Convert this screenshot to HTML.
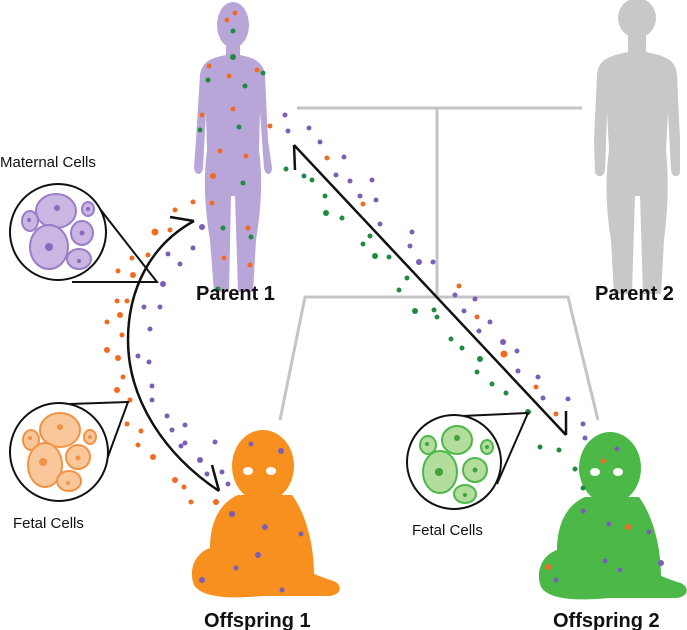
<!DOCTYPE html>
<html><head><style>
html,body{margin:0;padding:0;background:#fff;}
svg{display:block;}
text{font-family:"Liberation Sans",sans-serif;}
</style></head><body>
<svg width="687" height="630" viewBox="0 0 687 630" xmlns="http://www.w3.org/2000/svg">
<g stroke="#c4c4c4" stroke-width="3" fill="none">
<line x1="297" y1="108" x2="582" y2="108"/>
<line x1="437" y1="108" x2="437" y2="297"/>
<polyline points="280,420 305,297 568,297 598,420"/>
</g>
<g fill="#b8a6d8">
<ellipse cx="233" cy="25" rx="16" ry="23"/>
<path d="M226,42 L226,55 C210,58 202,62 200,75 L196,140 L194,168 C195,176 202,176 203,168 L206,112 L207,150 C203,180 205,210 210,240 L214,292 L229,292 L231,196 L235,196 L238,292 L253,292 L256,240 C261,210 263,180 259,150 L260,112 L264,168 C265,176 272,176 272,168 L268,140 L265,75 C263,62 255,58 240,55 L240,42 Z"/>
</g>
<g fill="#c8c8c8">
<ellipse cx="637" cy="18" rx="19" ry="20"/>
<path d="M628,34 L628,52 C608,56 598,60 597,75 L594,140 L595,172 C597,178 604,178 605,170 L607,112 L609,150 C605,180 606,210 611,240 L614,294 L632,294 L635,196 L640,196 L643,294 L661,294 L664,240 C668,210 669,180 666,150 L668,112 L671,170 C672,178 679,178 680,172 L680,140 L677,75 C676,60 666,56 646,52 L646,34 Z"/>
</g>
<g fill="#f7901e">
<ellipse cx="263" cy="466" rx="31" ry="36"/>
<path d="M238,495 C215,505 210,530 210,548 C195,553 188,570 194,585 C203,600 240,598 262,596 L330,596 C344,594 342,582 330,580 L314,574 C314,545 306,514 292,495 Z"/>
</g>
<g fill="#fff"><ellipse cx="248" cy="471" rx="5" ry="4"/><ellipse cx="271" cy="471" rx="5" ry="4"/></g>
<g fill="#4cb848">
<ellipse cx="610" cy="468" rx="31" ry="36"/>
<path d="M585,497 C562,507 557,532 557,550 C542,555 535,572 541,587 C550,602 587,600 609,598 L677,598 C691,596 689,584 677,582 L661,576 C661,547 653,516 639,497 Z"/>
</g>
<g fill="#fff"><ellipse cx="595" cy="472" rx="5" ry="4"/><ellipse cx="618" cy="472" rx="5" ry="4"/></g>
<g fill="#f26a21">
<circle cx="235" cy="13" r="2.5"/><circle cx="227" cy="20" r="2.5"/><circle cx="209" cy="66" r="2.5"/><circle cx="229" cy="76" r="2.5"/><circle cx="257" cy="70" r="2.5"/><circle cx="233" cy="109" r="2.5"/><circle cx="202" cy="115" r="2.5"/><circle cx="270" cy="126" r="2.5"/><circle cx="220" cy="151" r="2.5"/><circle cx="246" cy="156" r="2.5"/><circle cx="213" cy="176" r="3"/><circle cx="248" cy="228" r="2.5"/><circle cx="250" cy="265" r="2.5"/><circle cx="224" cy="258" r="2.5"/><circle cx="193" cy="202" r="2.5"/><circle cx="212" cy="203" r="2.5"/><circle cx="175" cy="210" r="2.5"/><circle cx="155" cy="232" r="3.5"/><circle cx="170" cy="230" r="2.5"/><circle cx="132" cy="258" r="2.5"/><circle cx="118" cy="271" r="2.5"/><circle cx="133" cy="275" r="3"/><circle cx="148" cy="255" r="2.5"/>
<circle cx="117" cy="301" r="2.5"/><circle cx="127" cy="301" r="2.5"/><circle cx="120" cy="315" r="3"/><circle cx="107" cy="322" r="2.5"/><circle cx="122" cy="335" r="2.5"/><circle cx="107" cy="350" r="3"/><circle cx="118" cy="358" r="3"/><circle cx="123" cy="377" r="2.5"/><circle cx="117" cy="390" r="3"/><circle cx="130" cy="400" r="2.5"/><circle cx="127" cy="424" r="2.5"/><circle cx="141" cy="431" r="2.5"/><circle cx="138" cy="445" r="2.5"/><circle cx="153" cy="457" r="3"/><circle cx="175" cy="480" r="3"/><circle cx="184" cy="487" r="2.5"/><circle cx="191" cy="502" r="2.5"/><circle cx="216" cy="502" r="3"/>
<circle cx="327" cy="158" r="2.5"/><circle cx="363" cy="204" r="2.5"/><circle cx="459" cy="286" r="2.5"/><circle cx="477" cy="317" r="2.5"/><circle cx="504" cy="354" r="3.5"/><circle cx="536" cy="387" r="2.5"/><circle cx="556" cy="414" r="2.5"/>
<circle cx="603" cy="461" r="2.5"/><circle cx="628" cy="527" r="3"/><circle cx="548" cy="567" r="3"/>
</g>
<g fill="#1e8c3e">
<circle cx="233" cy="31" r="2.5"/><circle cx="233" cy="57" r="3"/><circle cx="208" cy="80" r="2.5"/><circle cx="245" cy="86" r="2.5"/><circle cx="263" cy="73" r="2.5"/><circle cx="200" cy="130" r="2.5"/><circle cx="239" cy="127" r="2.5"/><circle cx="243" cy="183" r="2.5"/><circle cx="223" cy="228" r="2.5"/><circle cx="251" cy="237" r="2.5"/><circle cx="218" cy="289" r="2.5"/>
<circle cx="286" cy="169" r="2.5"/><circle cx="304" cy="176" r="2.5"/><circle cx="312" cy="180" r="2.5"/><circle cx="325" cy="196" r="2.5"/><circle cx="326" cy="213" r="3"/><circle cx="342" cy="218" r="2.5"/><circle cx="370" cy="236" r="2.5"/><circle cx="363" cy="244" r="2.5"/><circle cx="375" cy="256" r="3"/><circle cx="389" cy="257" r="2.5"/><circle cx="407" cy="278" r="2.5"/><circle cx="399" cy="290" r="2.5"/><circle cx="415" cy="311" r="3"/><circle cx="434" cy="310" r="2.5"/><circle cx="437" cy="317" r="2.5"/><circle cx="451" cy="339" r="2.5"/><circle cx="462" cy="348" r="2.5"/><circle cx="480" cy="359" r="3"/><circle cx="477" cy="372" r="2.5"/><circle cx="492" cy="384" r="2.5"/><circle cx="506" cy="393" r="2.5"/><circle cx="528" cy="412" r="3"/>
<circle cx="540" cy="447" r="2.5"/><circle cx="559" cy="450" r="2.5"/><circle cx="575" cy="469" r="2.5"/><circle cx="583" cy="488" r="2.5"/>
</g>
<g fill="#7b5fb6">
<circle cx="202" cy="227" r="3"/><circle cx="193" cy="248" r="2.5"/><circle cx="168" cy="254" r="2.5"/><circle cx="180" cy="264" r="2.5"/><circle cx="163" cy="284" r="3"/>
<circle cx="285" cy="115" r="2.5"/><circle cx="288" cy="131" r="2.5"/><circle cx="309" cy="128" r="2.5"/><circle cx="320" cy="142" r="2.5"/><circle cx="344" cy="157" r="2.5"/><circle cx="336" cy="175" r="2.5"/><circle cx="350" cy="181" r="2.5"/><circle cx="372" cy="180" r="2.5"/><circle cx="360" cy="196" r="2.5"/><circle cx="376" cy="200" r="2.5"/><circle cx="380" cy="224" r="2.5"/><circle cx="412" cy="232" r="2.5"/><circle cx="410" cy="246" r="2.5"/><circle cx="419" cy="262" r="3"/><circle cx="433" cy="262" r="2.5"/><circle cx="455" cy="295" r="2.5"/><circle cx="475" cy="299" r="2.5"/><circle cx="464" cy="311" r="2.5"/><circle cx="490" cy="322" r="2.5"/><circle cx="479" cy="331" r="2.5"/><circle cx="503" cy="342" r="3"/><circle cx="517" cy="351" r="2.5"/><circle cx="518" cy="371" r="2.5"/><circle cx="538" cy="377" r="2.5"/><circle cx="543" cy="398" r="2.5"/><circle cx="568" cy="399" r="2.5"/><circle cx="583" cy="424" r="2.5"/><circle cx="585" cy="438" r="2.5"/>
<circle cx="144" cy="307" r="2.5"/><circle cx="160" cy="307" r="2.5"/><circle cx="150" cy="329" r="2.5"/><circle cx="138" cy="356" r="2.5"/><circle cx="149" cy="362" r="2.5"/><circle cx="152" cy="386" r="2.5"/><circle cx="152" cy="400" r="2.5"/><circle cx="167" cy="416" r="2.5"/><circle cx="185" cy="425" r="2.5"/><circle cx="172" cy="430" r="2.5"/><circle cx="185" cy="443" r="2.5"/><circle cx="181" cy="446" r="2.5"/><circle cx="215" cy="442" r="2.5"/><circle cx="200" cy="460" r="3"/><circle cx="207" cy="474" r="2.5"/><circle cx="228" cy="484" r="2.5"/>
<circle cx="251" cy="444" r="2.5"/><circle cx="281" cy="451" r="3"/><circle cx="232" cy="514" r="3"/><circle cx="265" cy="527" r="3"/><circle cx="301" cy="534" r="2.5"/><circle cx="258" cy="555" r="3"/><circle cx="236" cy="568" r="2.5"/><circle cx="202" cy="580" r="3"/><circle cx="282" cy="590" r="2.5"/><circle cx="222" cy="472" r="2.5"/>
<circle cx="617" cy="449" r="2.5"/><circle cx="583" cy="511" r="2.5"/><circle cx="609" cy="524" r="2.5"/><circle cx="649" cy="532" r="2.5"/><circle cx="605" cy="561" r="2.5"/><circle cx="661" cy="563" r="3"/><circle cx="556" cy="580" r="2.5"/><circle cx="620" cy="570" r="2.5"/>
</g>
<g stroke="#111" stroke-width="2.5" fill="none" stroke-linejoin="miter">
<path d="M194,221 C150,245 128,290 128,340 C128,400 165,455 219,491"/>
<polyline points="170,217 194,221"/>
<polyline points="212,465 219,491"/>
<line x1="294" y1="145" x2="566" y2="435"/>
<polyline points="295,170 294,145"/>
<polyline points="566,411 566,435"/>
</g>
<g stroke="#111" stroke-width="2">
<path d="M100,209 L157,282 L72,282" fill="none"/>
<circle cx="58" cy="232" r="48" fill="#fff"/>
<path d="M70,404 L128,402 L106,462" fill="none"/>
<circle cx="59" cy="452" r="49" fill="#fff"/>
<path d="M462,416 L528,413 L497,484" fill="none"/>
<circle cx="454" cy="462" r="47" fill="#fff"/>
</g>
<g fill="#c9b6e2" stroke="#9a7cc8" stroke-width="2">
<ellipse cx="56" cy="211" rx="20" ry="17"/><ellipse cx="88" cy="209" rx="6" ry="7"/><ellipse cx="30" cy="221" rx="8" ry="10"/><ellipse cx="49" cy="247" rx="19" ry="22"/><ellipse cx="82" cy="233" rx="11" ry="12"/><ellipse cx="79" cy="259" rx="12" ry="10"/>
</g>
<g fill="#8a68bd"><circle cx="57" cy="208" r="3"/><circle cx="49" cy="247" r="4"/><circle cx="82" cy="233" r="2.5"/><circle cx="79" cy="261" r="2"/><circle cx="29" cy="220" r="2"/><circle cx="88" cy="209" r="2"/></g>
<g fill="#f9c79a" stroke="#f29245" stroke-width="2">
<ellipse cx="60" cy="430" rx="20" ry="17"/><ellipse cx="90" cy="437" rx="6" ry="7"/><ellipse cx="31" cy="440" rx="8" ry="10"/><ellipse cx="45" cy="465" rx="17" ry="22"/><ellipse cx="78" cy="457" rx="12" ry="12"/><ellipse cx="69" cy="481" rx="12" ry="10"/>
</g>
<g fill="#f29245"><circle cx="60" cy="427" r="3"/><circle cx="43" cy="462" r="4"/><circle cx="78" cy="458" r="2.5"/><circle cx="68" cy="483" r="2"/><circle cx="30" cy="438" r="2"/><circle cx="90" cy="437" r="2"/></g>
<g fill="#b2dd9c" stroke="#4cb848" stroke-width="2">
<ellipse cx="457" cy="440" rx="15" ry="14"/><ellipse cx="487" cy="447" rx="6" ry="7"/><ellipse cx="428" cy="445" rx="8" ry="9"/><ellipse cx="440" cy="472" rx="17" ry="21"/><ellipse cx="475" cy="470" rx="12" ry="12"/><ellipse cx="465" cy="494" rx="11" ry="9"/>
</g>
<g fill="#3da33a"><circle cx="457" cy="438" r="3"/><circle cx="439" cy="472" r="4"/><circle cx="475" cy="470" r="2.5"/><circle cx="465" cy="495" r="2"/><circle cx="427" cy="444" r="2"/><circle cx="487" cy="447" r="2"/></g>
<g fill="#111">
<text x="196" y="300" font-size="20" font-weight="bold">Parent 1</text>
<text x="595" y="300" font-size="20" font-weight="bold">Parent 2</text>
<text x="204" y="627" font-size="20" font-weight="bold">Offspring 1</text>
<text x="553" y="627" font-size="20" font-weight="bold">Offspring 2</text>
<text x="0" y="167" font-size="15">Maternal Cells</text>
<text x="13" y="528" font-size="15">Fetal Cells</text>
<text x="412" y="535" font-size="15">Fetal Cells</text>
</g>
</svg>
</body></html>
